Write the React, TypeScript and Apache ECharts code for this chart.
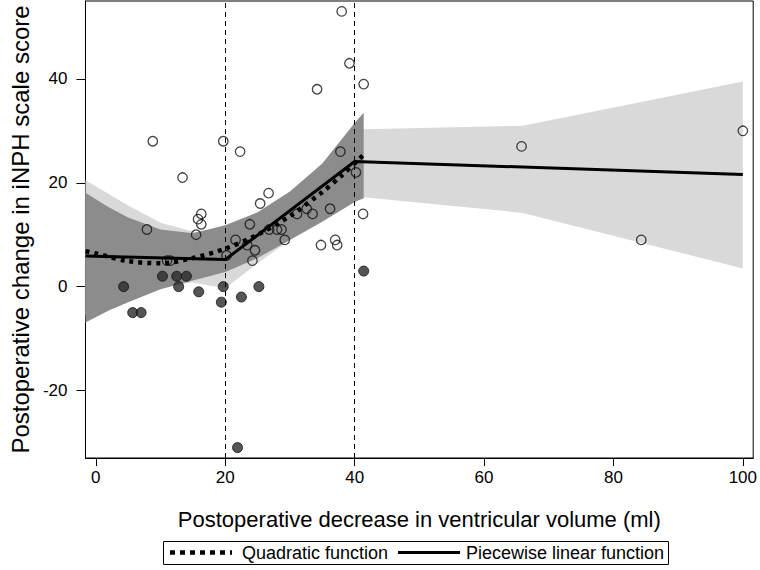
import React, { useEffect, useRef } from "react";
import * as echarts from "echarts";

const FONT = '"Liberation Sans", Arial, Helvetica, sans-serif';

const xTicks = [0, 20, 40, 60, 80, 100];
const yTicks = [-20, 0, 20, 40];
const cutPoints = [20, 40];
const legendLabels = ["Quadratic function", "Piecewise linear function"];

// open circles
const hollowPoints: number[][] = [
  [8.8, 28], [19.7, 28], [22.3, 26], [38.0, 53], [39.2, 43], [41.4, 39], [34.2, 38],
  [37.8, 26], [13.4, 21], [40.2, 22], [26.7, 18], [25.4, 16], [16.3, 14], [15.8, 13],
  [16.3, 12], [7.9, 11], [15.5, 10], [23.8, 12], [41.3, 14], [36.2, 15], [32.6, 15],
  [31.1, 14], [33.5, 14], [26.8, 11], [28.0, 11], [28.7, 11], [29.2, 9], [21.6, 9],
  [23.4, 8], [24.6, 7], [20.2, 6], [24.2, 5], [11.0, 5], [11.5, 5], [34.8, 8],
  [37.0, 9], [37.3, 8], [65.8, 27], [84.3, 9], [100, 30],
];

// filled circles
const filledPoints: number[][] = [
  [4.3, 0], [5.7, -5], [7.0, -5], [10.3, 2], [12.5, 2], [14.0, 2], [12.8, 0],
  [15.9, -1], [19.7, 0], [19.4, -3], [22.5, -2], [25.2, 0], [41.4, 3], [21.9, -31],
];

// quadratic fit (dotted)
const quadX = [-1.6, 0, 5, 10, 15, 20, 25, 30, 35, 38, 41.3];
const quadY = [6.8, 6.4, 4.9, 4.5, 5.5, 7.3, 10.0, 13.6, 18.2, 21.4, 25.3];

// piecewise linear fit (solid)
const pieceX = [-1.6, 20, 40, 100];
const pieceY = [5.9, 5.2, 24.1, 21.6];

// quadratic CI band (dark)
const quadBandX = [-1.6, 2, 5, 10, 15, 20, 25, 30, 35, 40, 41.4];
const quadBandUpper = [18.1, 15.3, 13.3, 11.0, 10.3, 11.8, 14.3, 18.3, 23.7, 31.5, 33.5];
const quadBandLower = [-6.9, -4.6, -3.0, -0.5, 1.2, 2.8, 5.5, 9.0, 12.5, 16.3, 17.0];

// piecewise CI band (light)
const pieceBandX = [-1.6, 5, 10, 15, 20, 25, 30, 35, 40, 41.4, 66, 100];
const pieceBandUpper = [20.5, 15.6, 12.3, 10.6, 9.5, 12.5, 17.0, 22.5, 28.5, 30.3, 31.0, 39.5];
const pieceBandLower = [-5.5, -2.0, 0.0, 0.8, -0.3, 4.5, 9.0, 13.0, 17.0, 17.2, 14.2, 3.5];

const zip = (a: number[], b: number[]) => a.map((v, i) => [v, b[i]]);

export default function App() {
  const ref = useRef<HTMLDivElement>(null);
  useEffect(() => {
    const chart = echarts.init(ref.current!, null, { renderer: "svg" });
    const band = (name: string, xs: number[], up: number[], lo: number[], color: string, z: number) => ({
      type: "custom",
      name,
      coordinateSystem: "cartesian2d",
      silent: true,
      z,
      data: [[xs[0], up[0]]],
      renderItem: (_p: any, api: any) => {
        const pts: number[][] = [];
        xs.forEach((x, i) => pts.push(api.coord([x, up[i]])));
        for (let i = xs.length - 1; i >= 0; i--) pts.push(api.coord([xs[i], lo[i]]));
        return { type: "polygon", shape: { points: pts }, style: { fill: color } };
      },
    });
    const legY = 552.5;
    chart.setOption({
      animation: false,
      textStyle: { fontFamily: FONT, color: "#000" },
      grid: { left: 84, right: 5, top: 1, bottom: 112, show: true, borderColor: "#000", borderWidth: 1 },
      graphic: [
        {
          type: "rect",
          shape: { x: 163.5, y: 541.5, width: 505, height: 23 },
          style: { fill: "#fff", stroke: "#000", lineWidth: 1 },
        },
        {
          type: "line",
          shape: { x1: 170, y1: legY, x2: 232, y2: legY },
          style: { stroke: "#000", lineWidth: 4.5, lineDash: [5, 5] },
        },
        {
          type: "text",
          x: 242,
          y: legY,
          style: { text: legendLabels[0], font: `18px ${FONT}`, fill: "#000", verticalAlign: "middle", align: "left" },
        },
        {
          type: "line",
          shape: { x1: 398, y1: legY, x2: 460, y2: legY },
          style: { stroke: "#000", lineWidth: 3 },
        },
        {
          type: "text",
          x: 466,
          y: legY,
          style: { text: legendLabels[1], font: `18px ${FONT}`, fill: "#000", verticalAlign: "middle", align: "left" },
        },
      ],
      xAxis: {
        type: "value",
        min: -1.6,
        max: 101.6,
        name: "Postoperative decrease in ventricular volume (ml)",
        nameLocation: "middle",
        nameGap: 50,
        nameTextStyle: { fontFamily: FONT, fontSize: 22, color: "#000" },
        axisLine: { show: true, onZero: false, lineStyle: { color: "#000", width: 1 } },
        axisTick: { show: true, length: 8, customValues: xTicks, lineStyle: { color: "#000", width: 1 } },
        axisLabel: { customValues: xTicks, fontFamily: FONT, fontSize: 17, color: "#000", margin: 11 },
        splitLine: { show: false },
      },
      yAxis: {
        type: "value",
        min: -33,
        max: 55,
        name: "Postoperative change in iNPH scale score",
        nameLocation: "middle",
        nameRotate: 90,
        nameGap: 50,
        nameTextStyle: { fontFamily: FONT, fontSize: 24, color: "#000" },
        axisLine: { show: true, onZero: false, lineStyle: { color: "#000", width: 1 } },
        axisTick: { show: true, length: 9, customValues: yTicks, lineStyle: { color: "#000", width: 1 } },
        axisLabel: { customValues: yTicks, fontFamily: FONT, fontSize: 17, color: "#000", margin: 18 },
        splitLine: { show: false },
      },
      series: [
        band("piecewiseCI", pieceBandX, pieceBandUpper, pieceBandLower, "#d9d9d9", 1),
        band("quadraticCI", quadBandX, quadBandUpper, quadBandLower, "#8c8c8c", 2),
        {
          type: "scatter",
          name: "open",
          z: 3,
          symbol: "circle",
          symbolSize: 9.5,
          data: hollowPoints,
          itemStyle: { color: "rgba(0,0,0,0)", borderColor: "#111", borderWidth: 1.3 },
          markLine: {
            silent: true,
            symbol: "none",
            label: { show: false },
            lineStyle: { color: "#000", width: 1, type: [5, 4] },
            data: cutPoints.map((v) => ({ xAxis: v })),
          },
        },
        {
          type: "scatter",
          name: "filled",
          z: 3,
          symbol: "circle",
          symbolSize: 10,
          data: filledPoints,
          itemStyle: { color: "#2a2a2a", borderColor: "#111", borderWidth: 1 },
        },
        {
          type: "line",
          name: legendLabels[0],
          z: 4,
          data: zip(quadX, quadY),
          smooth: 0.3,
          symbol: "none",
          lineStyle: { color: "#000", width: 4.5, type: [4, 5], cap: "butt" },
        },
        {
          type: "line",
          name: legendLabels[1],
          z: 5,
          data: zip(pieceX, pieceY),
          symbol: "none",
          lineStyle: { color: "#000", width: 3 },
        },
      ],
    });
    return () => chart.dispose();
  }, []);
  return <div ref={ref} style={{ position: "absolute", left: 0, top: 0, width: 760, height: 570 }} />;
}
